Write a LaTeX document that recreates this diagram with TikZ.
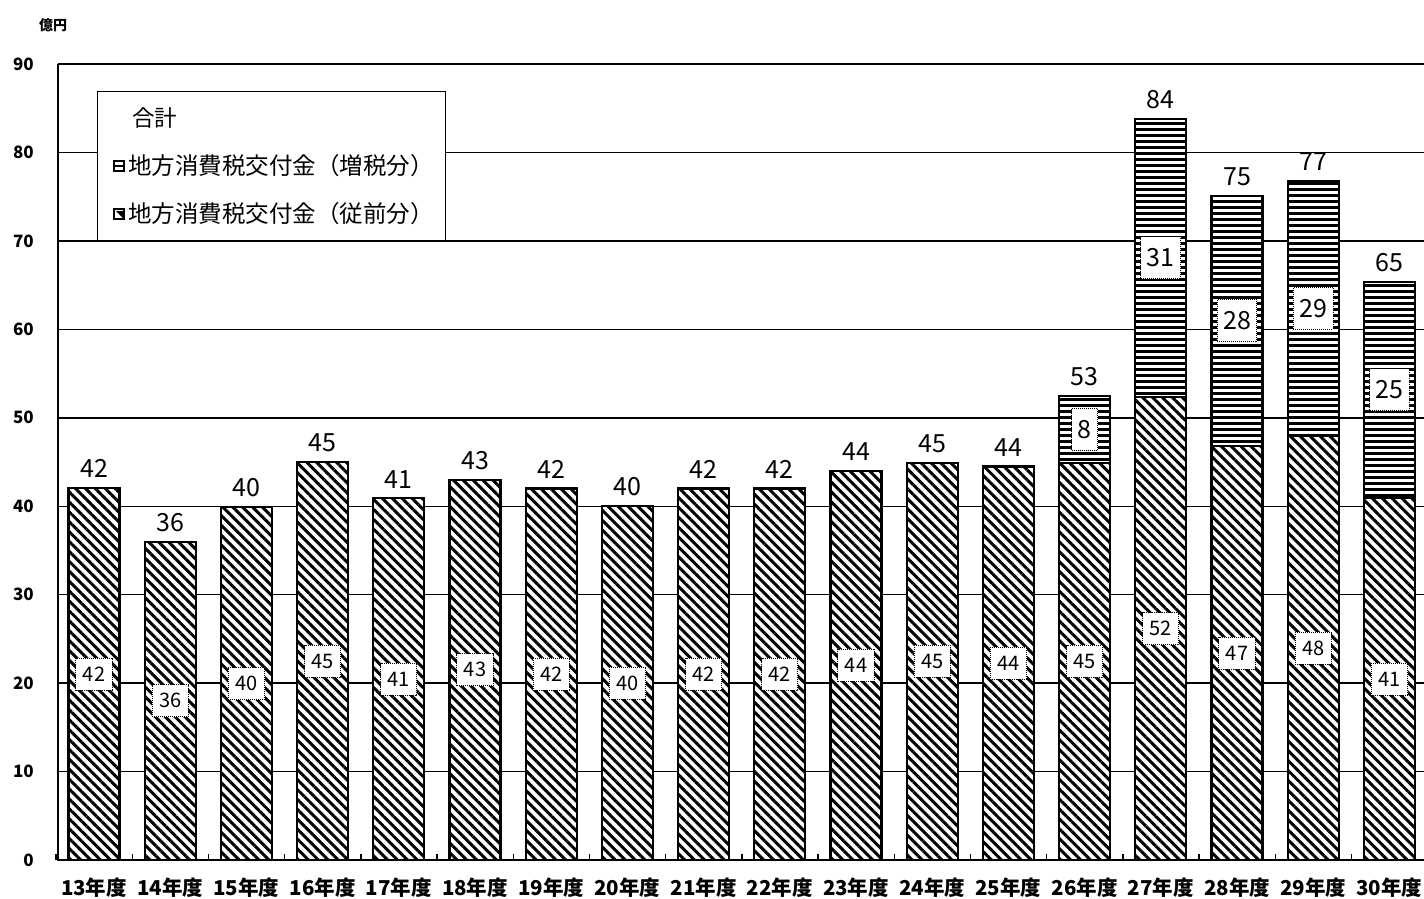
\documentclass[tikz,border=0pt]{standalone}
\usepackage{fontspec}
\setmainfont{Noto Sans CJK JP}
\usetikzlibrary{patterns.meta}
\tikzset{
  gridline/.style={line width=1.4pt},
  axisline/.style={line width=2.6pt},
  barline/.style={line width=2.2pt},
  hatchfill/.style={preaction={fill=white},pattern={Lines[angle=-45,distance=7pt,line width=3pt]}},
  horizfill/.style={preaction={fill=white},pattern={Lines[angle=0,distance=6pt,line width=3pt]}},
  totlab/.style={anchor=south,font=\fontsize{25}{25}\selectfont,inner sep=0pt},
  inlab/.style={fill=white,draw=black,densely dotted,line width=1pt,inner xsep=7pt,minimum height=32,font=\fontsize{20}{20}\selectfont},
  inclab/.style={fill=white,draw=black,densely dotted,line width=1pt,inner xsep=6pt,minimum height=42,font=\fontsize{25}{25}\selectfont},
  ylab/.style={anchor=east,font=\bfseries\fontsize{17}{17}\selectfont,inner sep=0pt},
  xlab/.style={font=\bfseries\fontsize{20.5}{20.5}\selectfont,inner sep=0pt},
  legtext/.style={anchor=west,font=\fontsize{23.5}{23.5}\selectfont,inner sep=0pt}
}
\begin{document}
\begin{tikzpicture}[x=1pt,y=-1pt]
\useasboundingbox (0,0) rectangle (1424,898);
% grid
\foreach \v in {10,20,...,90} {
  \draw[gridline] (58,{860-8.844*\v}) -- (1424,{860-8.844*\v});
}
% y labels
\foreach \v in {0,10,...,90} {
  \node[ylab] (y\v) at (34,{860-8.844*\v}) {\v};
}
\node[anchor=west,font=\bfseries\fontsize{14}{14}\selectfont,inner sep=0pt] (unit) at (39,25) {億円};
% legend
\node[draw,fill=white,line width=1.4pt,minimum width=348,minimum height=149,anchor=north west,inner sep=0pt] (legend) at (97,91) {};
\node[anchor=west,font=\fontsize{22.5}{22.5}\selectfont,inner sep=0pt] (legsum) at (132,118) {合計};
\draw[line width=1.2pt] (114,161) rectangle (124,171);
\draw[line width=2pt] (114,166) -- (124,166);
\node[legtext] (leginc) at (128,166) {地方消費税交付金（増税分）};
\draw[line width=1.2pt] (114,209) rectangle (124,219);
\fill (116,211) -- (124,211) -- (124,219) -- cycle;
\node[legtext] (legold) at (128,214) {地方消費税交付金（従前分）};
% lower bars
\foreach \i/\lo/\ll/\tl in {0/42.06/42/42,1/36/36/36,2/39.9/40/40,3/45/45/45,4/40.9/41/41,5/43/43/43,6/42/42/42,7/40/40/40,8/42/42/42,9/42/42/42,10/44/44/44,11/44.9/45/45,12/44.5/44/44} {
  \draw[barline,hatchfill] ({94+76.2*\i-25.5},860) rectangle ({94+76.2*\i+25.5},{860-8.844*\lo});
  \node[inlab] (low\i) at ({94+76.2*\i},{860-8.844*\lo/2}) {\ll};
  \node[totlab] (tot\i) at ({94+76.2*\i},{860-8.844*\lo-10}) {\tl};
}
\foreach \i/\lo/\inc/\ll/\il/\tl in {13/44.9/7.6/45/8/53,14/52.35/31.45/52/31/84,15/46.8/28.3/47/28/75,16/47.9/28.9/48/29/77,17/40.9/24.5/41/25/65} {
  \draw[barline,hatchfill] ({94+76.2*\i-25.5},860) rectangle ({94+76.2*\i+25.5},{860-8.844*\lo});
  \draw[barline,horizfill] ({94+76.2*\i-25.5},{860-8.844*\lo}) rectangle ({94+76.2*\i+25.5},{860-8.844*(\lo+\inc)});
  \node[inlab] (low\i) at ({94+76.2*\i},{860-8.844*\lo/2}) {\ll};
  \node[inclab] (inc\i) at ({94+76.2*\i},{860-8.844*(\lo+\inc/2)}) {\il};
  \node[totlab] (tot\i) at ({94+76.2*\i},{860-8.844*(\lo+\inc)-10}) {\tl};
}
% axes
\draw[axisline] (58,64) -- (58,860) -- (1424,860);
\foreach \i in {0,...,18} {
  \draw[line width=1.4pt] ({94+76.2*\i-38},860) -- ({94+76.2*\i-38},854);
}
% x labels
\foreach \i in {0,...,17} {
  \pgfmathtruncatemacro{\yr}{13+\i}
  \node[xlab] (x\i) at ({94+76.2*\i},888) {\yr 年度};
}
\end{tikzpicture}
\end{document}
